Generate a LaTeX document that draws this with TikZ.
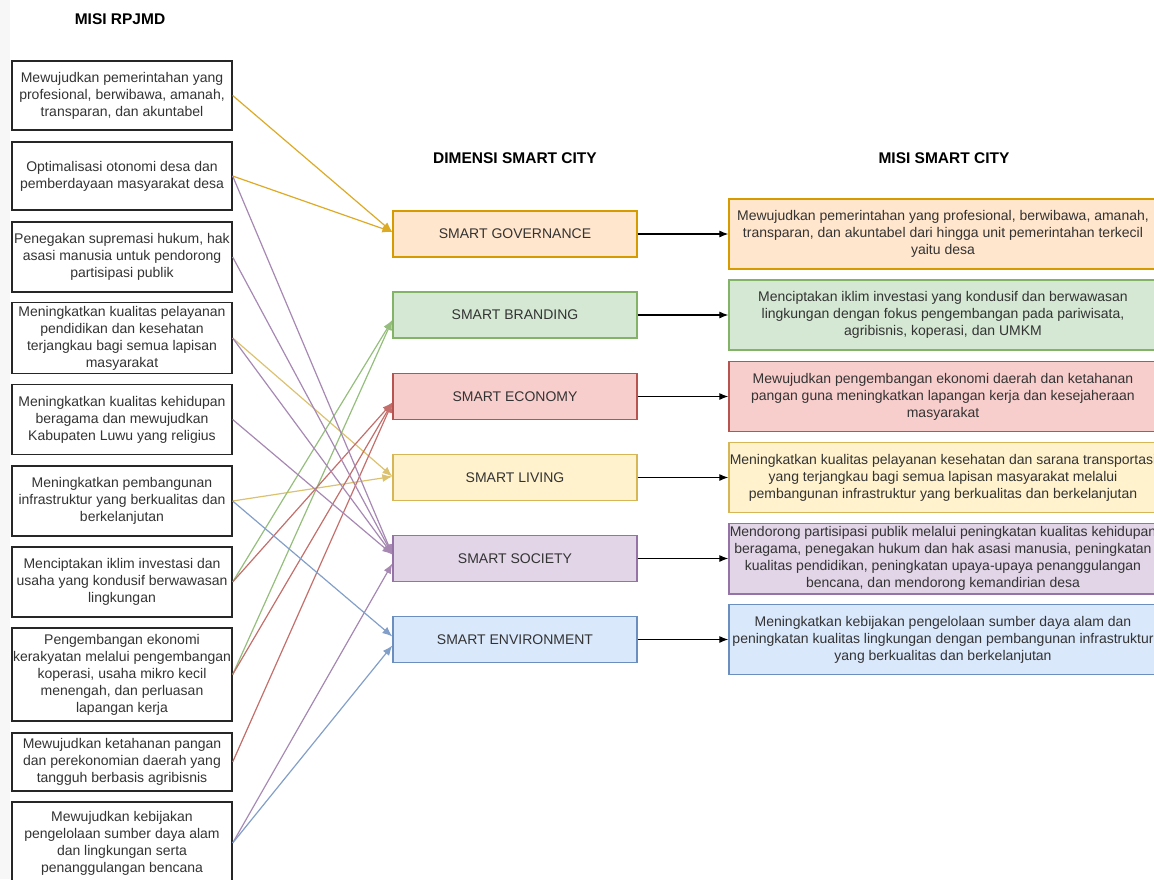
\documentclass[tikz,border=0pt]{standalone}
\usepackage{fontspec}
\setmainfont{Liberation Sans}
\usetikzlibrary{arrows.meta}

\definecolor{teks}{HTML}{333333}
\definecolor{fgov}{HTML}{FFE6CC}\definecolor{dgov}{HTML}{D79B00}
\definecolor{fbrand}{HTML}{D5E8D4}\definecolor{dbrand}{HTML}{82B366}
\definecolor{feco}{HTML}{F8CECC}\definecolor{deco}{HTML}{B85450}
\definecolor{fliv}{HTML}{FFF2CC}\definecolor{dliv}{HTML}{D6B656}
\definecolor{fsoc}{HTML}{E1D5E7}\definecolor{dsoc}{HTML}{9673A6}
\definecolor{fenv}{HTML}{DAE8FC}\definecolor{denv}{HTML}{6C8EBF}

\tikzstyle{misi}=[
    draw=black!85,
    line width=1.3pt,
    minimum width=220pt,
    inner xsep=0pt,
    text=teks,
    align=center,
    font=\fontsize{14}{17}\selectfont,
  ]
\tikzstyle{dimensi}=[
    line width=1.3pt,
    minimum width=244pt,
    minimum height=46pt,
    text=teks,
    font=\fontsize{14}{17}\selectfont,
  ]
\tikzstyle{tujuan}=[
    line width=1.3pt,
    minimum width=428pt,
    minimum height=70pt,
    inner xsep=0pt,
    text=teks,
    align=center,
    font=\fontsize{14}{17}\selectfont,
  ]
\tikzstyle{judul}=[
    font=\fontsize{15.5}{18}\selectfont\bfseries,
  ]
\tikzstyle{link}=[
    -{Latex[length=10pt,width=8pt]},
    line width=1.2pt,
  ]
\tikzstyle{lanjut}=[
    -{Latex[length=9pt,width=7pt]},
    line width=1.1pt,
  ]

\begin{document}
\begin{tikzpicture}[x=1pt, y=-1pt]
  \path[use as bounding box, clip] (0,0) rectangle (1154,879);
  \fill[black!3] (0,0) rectangle (10,879);

  \node[judul] (h1) at (120,19) {MISI RPJMD};
  \node[judul] (h2) at (515,158) {DIMENSI SMART CITY};
  \node[judul] (h3) at (944,158) {MISI SMART CITY};

  % misi rpjmd
  \node[misi, minimum height=69pt] (m1) at (122,95.5)
    {Mewujudkan pemerintahan yang\\profesional, berwibawa, amanah,\\transparan, dan akuntabel};
  \node[misi, minimum height=68pt] (m2) at (122,176)
    {Optimalisasi otonomi desa dan\\pemberdayaan masyarakat desa};
  \node[misi, minimum height=70pt] (m3) at (122,257)
    {Penegakan supremasi hukum, hak\\asasi manusia untuk pendorong\\partisipasi publik};
  \node[misi, minimum height=70pt] (m4) at (122,338)
    {Meningkatkan kualitas pelayanan\\pendidikan dan kesehatan\\terjangkau bagi semua lapisan\\masyarakat};
  \node[misi, minimum height=70pt] (m5) at (122,419.5)
    {Meningkatkan kualitas kehidupan\\beragama dan mewujudkan\\Kabupaten Luwu yang religius};
  \node[misi, minimum height=70pt] (m6) at (122,501)
    {Meningkatkan pembangunan\\infrastruktur yang berkualitas dan\\berkelanjutan};
  \node[misi, minimum height=70pt] (m7) at (122,582)
    {Menciptakan iklim investasi dan\\usaha yang kondusif berwawasan\\lingkungan};
  \node[misi, minimum height=93pt] (m8) at (122,674.5)
    {Pengembangan ekonomi\\kerakyatan melalui pengembangan\\koperasi, usaha mikro kecil\\menengah, dan perluasan\\lapangan kerja};
  \node[misi, minimum height=58pt] (m9) at (122,762)
    {Mewujudkan ketahanan pangan\\dan perekonomian daerah yang\\tangguh berbasis agribisnis};
  \node[misi, minimum height=82pt] (m10) at (122,843)
    {Mewujudkan kebijakan\\pengelolaan sumber daya alam\\dan lingkungan serta\\penanggulangan bencana};

  % dimensi dan misi smart city
  \foreach \n/\y/\t/\u in {%
      gov/234/{SMART GOVERNANCE}/{Mewujudkan pemerintahan yang profesional, berwibawa, amanah,\\transparan, dan akuntabel dari hingga unit pemerintahan terkecil\\yaitu desa},
      brand/315/{SMART BRANDING}/{Menciptakan iklim investasi yang kondusif dan berwawasan\\lingkungan dengan fokus pengembangan pada pariwisata,\\agribisnis, koperasi, dan UMKM},
      eco/396.5/{SMART ECONOMY}/{Mewujudkan pengembangan ekonomi daerah dan ketahanan\\pangan guna meningkatkan lapangan kerja dan kesejaheraan\\masyarakat},
      liv/477.5/{SMART LIVING}/{Meningkatkan kualitas pelayanan kesehatan dan sarana transportasi\\yang terjangkau bagi semua lapisan masyarakat melalui\\pembangunan infrastruktur yang berkualitas dan berkelanjutan},
      soc/558.5/{SMART SOCIETY}/{Mendorong partisipasi publik melalui peningkatan kualitas kehidupan\\beragama, penegakan hukum dan hak asasi manusia, peningkatan\\kualitas pendidikan, peningkatan upaya-upaya penanggulangan\\bencana, dan mendorong kemandirian desa},
      env/639.5/{SMART ENVIRONMENT}/{Meningkatkan kebijakan pengelolaan sumber daya alam dan\\peningkatan kualitas lingkungan dengan pembangunan infrastruktur\\yang berkualitas dan berkelanjutan}} {%
    \node[dimensi, draw=d\n, fill=f\n] (\n) at (515,\y) {\t};
    \node[tujuan, draw=d\n, fill=f\n] (t\n) at (943,\y) {\u};
    \draw[lanjut] (\n) to (t\n);
  }

  \foreach \a/\b/\s in {m1/gov/2, m2/gov/2, m4/liv/1, m6/liv/1,
      m7/brand/-5, m8/brand/-5, m7/eco/-6, m8/eco/-6, m9/eco/-6,
      m2/soc/4, m3/soc/4, m4/soc/4, m5/soc/4, m10/soc/-5,
      m6/env/3, m10/env/-6} {%
    \draw[link, draw=d\b!85!white] (\a.east) to ([yshift=\s pt]\b.west);
  }
\end{tikzpicture}
\end{document}
